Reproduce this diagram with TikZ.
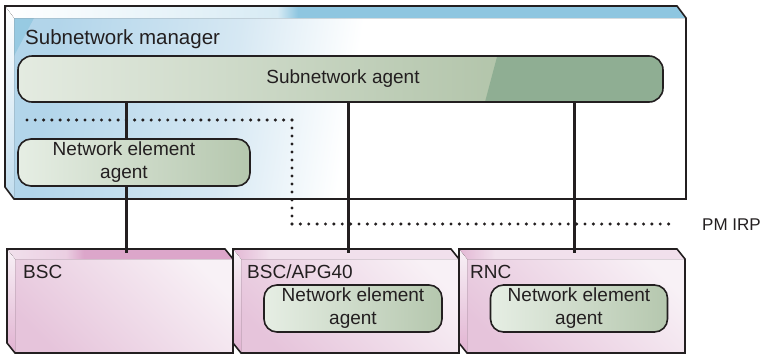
\documentclass[tikz,border=0pt]{standalone}
\usepackage{fontspec}
\setmainfont{Liberation Sans}
\usetikzlibrary{calc}
\definecolor{lineC}{HTML}{231F20}
\definecolor{bandBlue}{HTML}{8EC6E0}
\definecolor{faceBlue}{HTML}{B2D5EA}
\definecolor{faceBlueL}{HTML}{D6E8F3}
\definecolor{agentL}{HTML}{E4EBE1}
\definecolor{agentM}{HTML}{B3C5AB}
\definecolor{agentD}{HTML}{8FAE93}
\definecolor{neL}{HTML}{E6EEE4}
\definecolor{neR}{HTML}{B5C7AE}
\definecolor{pinkBand}{HTML}{DCA6CA}
\definecolor{pinkBandL}{HTML}{F1E0EC}
\definecolor{pinkFaceD}{HTML}{E6C4DB}
\definecolor{pinkFaceL}{HTML}{F8F1F6}
\pgfdeclarehorizontalshading{mgrface}{100bp}{color(0bp)=(faceBlue); color(25bp)=(faceBlue); color(40bp)=(faceBlueL); color(50bp)=(white); color(100bp)=(white)}
\pgfdeclarehorizontalshading{mgrband}{100bp}{color(0bp)=(white); color(25bp)=(white); color(45bp)=(bandBlue!35!white); color(46.5bp)=(bandBlue); color(100bp)=(bandBlue)}
\pgfdeclarehorizontalshading{sashade}{100bp}{color(0bp)=(agentL); color(25bp)=(agentL); color(62bp)=(agentM); color(100bp)=(agentM)}
\pgfdeclarehorizontalshading{pinkface}{100bp}{color(0bp)=(pinkFaceD); color(25bp)=(pinkFaceD); color(75bp)=(pinkFaceL); color(100bp)=(pinkFaceL)}
\pgfdeclarehorizontalshading{bandA}{100bp}{color(0bp)=(pinkBandL); color(25bp)=(pinkBandL); color(38bp)=(pinkBandL!70!pinkBand); color(42bp)=(pinkBand); color(100bp)=(pinkBand)}
\pgfdeclarehorizontalshading{bandB}{100bp}{color(0bp)=(pinkBand); color(25bp)=(pinkBand!80!white); color(33bp)=(pinkBandL); color(100bp)=(pinkBandL)}
\tikzset{
  boxline/.style={draw=lineC, line width=1.6pt, line join=miter},
  neagent/.style={draw=lineC, line width=1.6pt, rounded corners=13pt, shading=axis, left color=neL, right color=neR, minimum height=47pt, inner sep=0pt, outer sep=0pt, align=center},
  conn/.style={draw=lineC, line width=3pt},
  dots/.style={draw=lineC, line width=3.4pt, line cap=round},
  lbl/.style={inner sep=0pt, text=lineC, font=\fontsize{19}{23}\selectfont},
}
\newcommand\pinkbox[2]{%
  \fill[shading=pinkface, shading angle=45] (#1,249) -- ++(218,0) -- ++(8,10) -- ++(0,94) -- ++(-218,0) -- ++(-8,-10) -- cycle;
  \fill[shading=#2] (#1,249) -- ++(218,0) -- ++(8,10) -- ++(-218,0) -- cycle;
  \fill[shading=axis, top color=pinkFaceL, bottom color=pinkBand!85!white] (#1,249) -- ++(8,10) -- ++(0,94) -- ++(-8,-10) -- cycle;
  \draw[boxline] (#1,249) -- ++(218,0) -- ++(8,10) -- ++(0,94) -- ++(-218,0) -- ++(-8,-10) -- cycle;
}
\begin{document}
\begin{tikzpicture}[x=1pt,y=-1pt]
\useasboundingbox (0,0) rectangle (765,354);
% bottom network elements
\pinkbox{7}{bandA}
\pinkbox{233}{bandB}
\pinkbox{459}{bandB}
\node[lbl, anchor=base west] (bscl) at (23,278) {BSC};
\node[lbl, anchor=base west] (apgl) at (247,278) {BSC/APG40};
\node[lbl, anchor=base west] (rncl) at (470,278) {RNC};
% subnetwork manager box
\fill[white] (5,6) -- (677,6) -- (686,18) -- (686,199) -- (14,199) -- (5,187) -- cycle;
\fill[shading=mgrface, shading angle=-9] (14,18) rectangle (686,199);
\fill[bandBlue!75!faceBlue] (14,18) -- (34,18) -- (14,56) -- cycle;
\fill[shading=mgrband] (5,6) -- (677,6) -- (686,18) -- (14,18) -- cycle;
\fill[shading=axis, top color=white, bottom color=faceBlue!80!white] (5,6) -- (14,18) -- (14,199) -- (5,187) -- cycle;
\draw[boxline] (5,6) -- (677,6) -- (686,18) -- (686,199) -- (14,199) -- (5,187) -- cycle;
\node[lbl, anchor=base west, font=\fontsize{20.5}{24}\selectfont] (sml) at (25,44) {Subnetwork manager};
% subnetwork agent
\node[draw=lineC, line width=1.6pt, rounded corners=14pt, shading=sashade, minimum width=645pt, minimum height=46pt, inner sep=0pt, outer sep=0pt,
  path picture={\fill[agentD, sharp corners] ($(path picture bounding box.north west)!0.743!(path picture bounding box.north east)$) -- ([xshift=20pt]path picture bounding box.north east) -- ([xshift=20pt]path picture bounding box.south east) -- ($(path picture bounding box.south west)!0.724!(path picture bounding box.south east)$) -- cycle;}]
  (sa) at (340.5,79) {};
\node[lbl] (sat) at (343,79) {Subnetwork agent};
% network element agents
\node[neagent, minimum width=232pt] (ne1) at (134,162.5) {};
\node[lbl, align=center] (ne1t) at (124,162) {Network element\\agent};
\node[neagent, minimum width=178pt, font=\fontsize{19}{23}\selectfont, text=lineC] (ne2) at (353,308.5) {Network element\\agent};
\node[neagent, minimum width=177pt, font=\fontsize{19}{23}\selectfont, text=lineC] (ne3) at (579,308.5) {Network element\\agent};
% PM IRP dotted boundary
\coordinate (d0) at (27,120);
\coordinate (d1) at (292,120);
\coordinate (d2) at (292,224);
\coordinate (d3) at (677,224);
\draw[dots, dash pattern=on 0pt off 8.28pt] (d0) -- (d1);
\draw[dots, dash pattern=on 0pt off 8pt] (d1) -- (d2);
\draw[dots, dash pattern=on 0pt off 8.37pt] (d2) -- (d3);
\node[lbl, anchor=west, font=\fontsize{17}{20}\selectfont] (pm) at (702,225) {PM IRP};
% connectors
\coordinate (l1) at (126,253);
\coordinate (l2) at (348,253);
\coordinate (l3) at (574,253);
\draw[conn] (sa.south -| l1) -- (ne1.north -| l1);
\draw[conn] (ne1.south -| l1) -- (l1);
\draw[conn] (sa.south -| l2) -- (l2);
\draw[conn] (sa.south -| l3) -- (l3);
\end{tikzpicture}
\end{document}
